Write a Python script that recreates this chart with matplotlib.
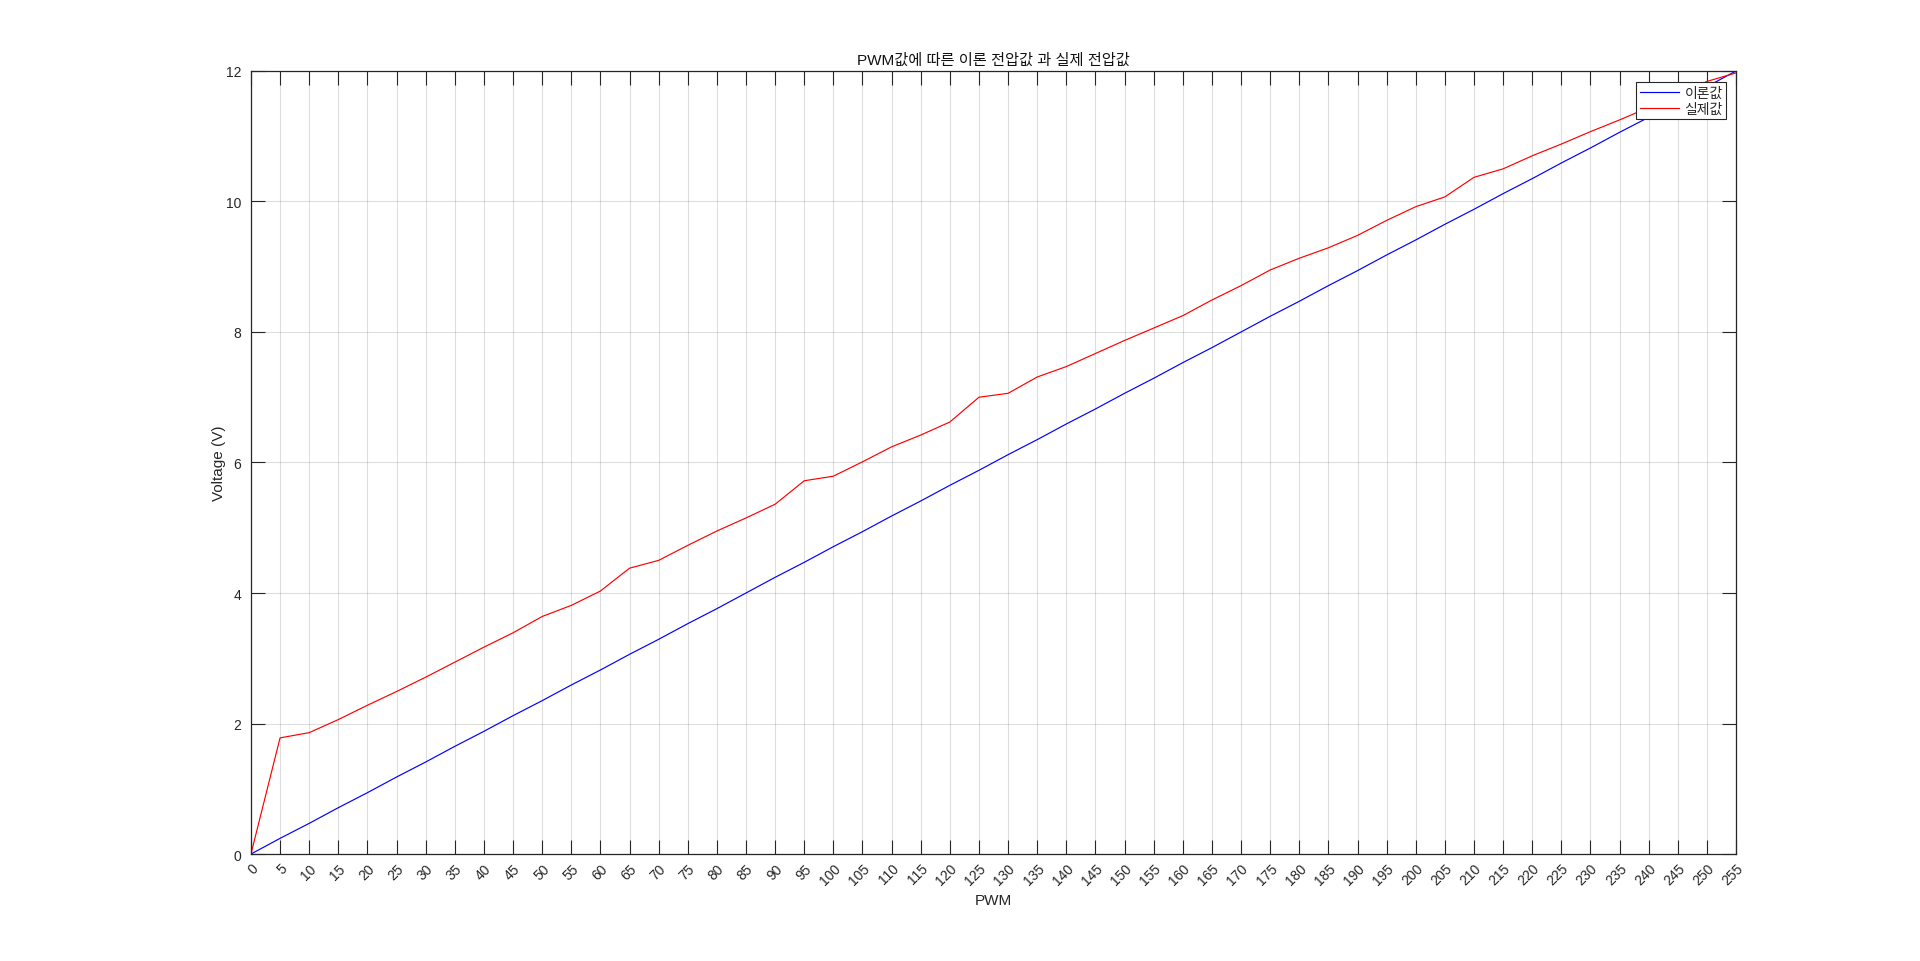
import matplotlib
matplotlib.use("Agg")
import matplotlib.pyplot as plt

plt.rcParams['font.family'] = ['Liberation Sans', 'Noto Sans CJK KR', 'DejaVu Sans']

# PWM steps and measured / theoretical voltages
pwm = list(range(0, 256, 5))
theory_v = [0.00, 0.24, 0.47, 0.71, 0.94, 1.18, 1.41, 1.65, 1.88, 2.12,
            2.35, 2.59, 2.82, 3.06, 3.29, 3.53, 3.76, 4.00, 4.24, 4.47,
            4.71, 4.94, 5.18, 5.41, 5.65, 5.88, 6.12, 6.35, 6.59, 6.82,
            7.06, 7.29, 7.53, 7.76, 8.00, 8.24, 8.47, 8.71, 8.94, 9.18,
            9.41, 9.65, 9.88, 10.12, 10.35, 10.59, 10.82, 11.06, 11.29, 11.53,
            11.76, 12.00]
actual_v = [0.00, 1.78, 1.86, 2.06, 2.28, 2.49, 2.71, 2.94, 3.17, 3.39,
            3.64, 3.81, 4.03, 4.38, 4.50, 4.73, 4.95, 5.15, 5.36, 5.72,
            5.79, 6.01, 6.24, 6.42, 6.62, 7.00, 7.06, 7.31, 7.47, 7.67,
            7.87, 8.06, 8.25, 8.49, 8.71, 8.95, 9.13, 9.29, 9.48, 9.71,
            9.92, 10.07, 10.37, 10.50, 10.70, 10.88, 11.07, 11.25, 11.44, 11.63,
            11.84, 11.97]
y_ticks = [0, 2, 4, 6, 8, 10, 12]

fig = plt.figure(figsize=(19.2, 9.62), dpi=100)
ax = fig.add_axes([0.1307, 0.1112, 0.7735, 0.8140])

ax.plot(pwm, theory_v, color="#0000ff", lw=0.85, label="이론값")
ax.plot(pwm, actual_v, color="#ff0000", lw=0.85, label="실제값")

ax.set_xlim(0, 255)
ax.set_ylim(0, 12)
ax.set_xticks(pwm)
ax.set_yticks(y_ticks)
ax.set_xticklabels([str(p) for p in pwm], rotation=45, ha="right", va="top",
                   rotation_mode="anchor")
ax.tick_params(direction="in", length=10, width=0.8, colors="#262626",
               labelsize=10, top=True, right=True, pad=5)
ax.tick_params(axis="y", pad=7)
for s in ax.spines.values():
    s.set_color("#262626")
    s.set_linewidth(0.9)

ax.grid(True, color="#262626", alpha=0.15, lw=0.8)

ax.set_title("PWM값에 따른 이론 전압값 과 실제 전압값", fontsize=11, color="#111111", pad=5)
ax.set_xlabel("PWM", fontsize=11, color="#262626", labelpad=4)
ax.set_ylabel("Voltage (V)", fontsize=11, color="#262626", labelpad=0)

leg = ax.legend(loc="upper right", bbox_to_anchor=(0.9933, 0.986), fontsize=10,
                fancybox=False, framealpha=1, edgecolor="#262626",
                handlelength=2.8, borderpad=0.25, labelspacing=0.15, handletextpad=0.4,
                borderaxespad=0, labelcolor="#262626")
leg.get_frame().set_linewidth(0.8)

fig.savefig("out.png", dpi=100)
